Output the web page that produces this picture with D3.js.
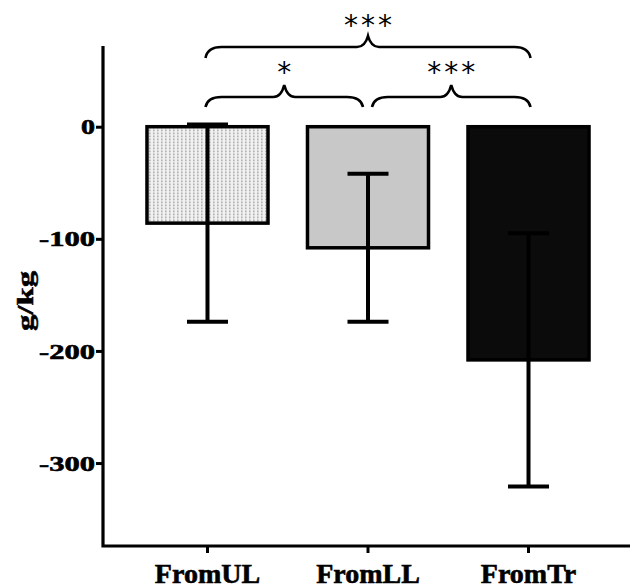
<!DOCTYPE html>
<html>
<head>
<meta charset="utf-8">
<script src="https://cdn.jsdelivr.net/npm/d3@7"></script>
<style>
  html, body { margin: 0; padding: 0; background: #fff; }
  svg { display: block; }
</style>
</head>
<body>
<svg id="chart" width="630" height="588"></svg>
<script>
// ---- data ----
const categories = ["FromUL", "FromLL", "FromTr"];
const means = [-86, -108, -208];
const sds = [88, 66, 113];
const yTicks = [0, -100, -200, -300];
const yLabel = "g/kg";
const comparisons = [
  { a: 0, b: 1, label: "*", level: 0 },
  { a: 1, b: 2, label: "***", level: 0 },
  { a: 0, b: 2, label: "***", level: 1 }
];

// ---- layout ----
const svg = d3.select("#chart");
const x0 = 103, x1 = 633, yTop = 46, yBot = 546;
const serif = "'Liberation Serif', 'Times New Roman', serif";

const x = d3.scaleBand().domain(categories).range([x0, x1])
  .paddingInner(0.246).paddingOuter(0.274);
const y = d3.scaleLinear().domain([-374, 72]).range([yBot, yTop]);

// pattern for first bar
const defs = svg.append("defs");
const pat = defs.append("pattern").attr("id", "stipple")
  .attr("patternUnits", "userSpaceOnUse").attr("width", 4).attr("height", 3);
pat.append("rect").attr("width", 4).attr("height", 3).attr("fill", "#f1f1f1");
pat.append("rect").attr("x", 1).attr("y", 0.5).attr("width", 1.6).attr("height", 1.8).attr("fill", "#b0b0b0");

const fills = ["url(#stipple)", "#c8c8c8", "#0b0b0b"];

// bars
svg.append("g").selectAll("rect").data(categories).join("rect")
  .attr("x", d => x(d))
  .attr("width", x.bandwidth())
  .attr("y", (d, i) => y(Math.max(0, means[i])))
  .attr("height", (d, i) => Math.abs(y(means[i]) - y(0)))
  .attr("fill", (d, i) => fills[i])
  .attr("stroke", "#000").attr("stroke-width", 3.5);

// error bars
const eb = svg.append("g").attr("stroke", "#000").attr("stroke-width", 4).attr("fill", "none");
categories.forEach((c, i) => {
  const cx = x(c) + x.bandwidth() / 2;
  const lo = means[i] - sds[i], hi = means[i] + sds[i];
  eb.append("line").attr("x1", cx).attr("x2", cx).attr("y1", y(hi)).attr("y2", y(lo));
  eb.append("line").attr("x1", cx - 20.5).attr("x2", cx + 20.5).attr("y1", y(hi)).attr("y2", y(hi));
  eb.append("line").attr("x1", cx - 20.5).attr("x2", cx + 20.5).attr("y1", y(lo)).attr("y2", y(lo));
});

// y axis
const yAxis = svg.append("g").attr("transform", `translate(${x0},0)`)
  .call(d3.axisLeft(y).tickValues(yTicks).tickSize(7).tickFormat(d => String(d)));
yAxis.select(".domain").remove();
yAxis.selectAll(".tick line").attr("stroke", "#000").attr("stroke-width", 3);
yAxis.selectAll(".tick text")
  .attr("x", -8).attr("dy", "0.34em")
  .attr("font-family", serif)
  .attr("font-weight", "bold").attr("font-size", 21).attr("fill", "#000")
  .attr("stroke", "#000").attr("stroke-width", 0.6)
  .attr("lengthAdjust", "spacingAndGlyphs")
  .attr("textLength", d => d === 0 ? 14 : 56);

// x axis
const xAxis = svg.append("g").attr("transform", `translate(0,${yBot})`)
  .call(d3.axisBottom(x).tickSize(7).tickSizeOuter(0));
xAxis.select(".domain").remove();
xAxis.selectAll(".tick line").attr("stroke", "#000").attr("stroke-width", 3);
xAxis.selectAll(".tick text")
  .attr("y", 17).attr("dy", "0.71em")
  .attr("font-family", serif)
  .attr("font-weight", "bold").attr("font-size", 28).attr("fill", "#000")
  .attr("stroke", "#000").attr("stroke-width", 0.6);

// axis lines
svg.append("path")
  .attr("d", `M${x0},${yTop} L${x0},${yBot} L630,${yBot}`)
  .attr("fill", "none").attr("stroke", "#000").attr("stroke-width", 3.2);

// y label
svg.append("text")
  .attr("transform", "translate(33,301) rotate(-90)")
  .attr("text-anchor", "middle")
  .attr("font-family", serif)
  .attr("font-weight", "bold").attr("font-size", 24)
  .attr("stroke", "#000").attr("stroke-width", 0.5)
  .attr("lengthAdjust", "spacingAndGlyphs").attr("textLength", 60)
  .text(yLabel);

// significance braces
const levels = [{ yE: 107, yH: 97, yT: 85, ty: 61 }, { yE: 58, yH: 47, yT: 36, ty: 14 }];
const bg = svg.append("g");
comparisons.forEach(cmp => {
  const L = levels[cmp.level];
  const ca = x(categories[cmp.a]) + x.bandwidth() / 2;
  const cb = x(categories[cmp.b]) + x.bandwidth() / 2;
  const xa = ca + (cmp.a === 0 ? -2 : 4);
  const xb = cb + (cmp.b === categories.length - 1 ? 2 : -5);
  const t = (xa + xb) / 2;
  const r = 16, s = 11;
  const d = `M${xa},${L.yE} Q${xa + 2},${L.yH} ${xa + r},${L.yH} L${t - s},${L.yH} ` +
    `Q${t - 3},${L.yH} ${t},${L.yT} Q${t + 3},${L.yH} ${t + s},${L.yH} ` +
    `L${xb - r},${L.yH} Q${xb - 2},${L.yH} ${xb},${L.yE}`;
  bg.append("path").attr("d", d).attr("fill", "none").attr("stroke", "#000").attr("stroke-width", 2.6);
  bg.append("text")
    .attr("x", t + (cmp.label.length > 1 ? 1.5 : 0)).attr("y", L.ty).attr("dy", "0.75em")
    .attr("text-anchor", "middle")
    .attr("font-family", "'DejaVu Sans', sans-serif")
    .attr("font-size", 28).attr("fill", "#000")
    .attr("letter-spacing", cmp.label.length > 1 ? 3 : 0)
    .text(cmp.label);
});
</script>
</body>
</html>
